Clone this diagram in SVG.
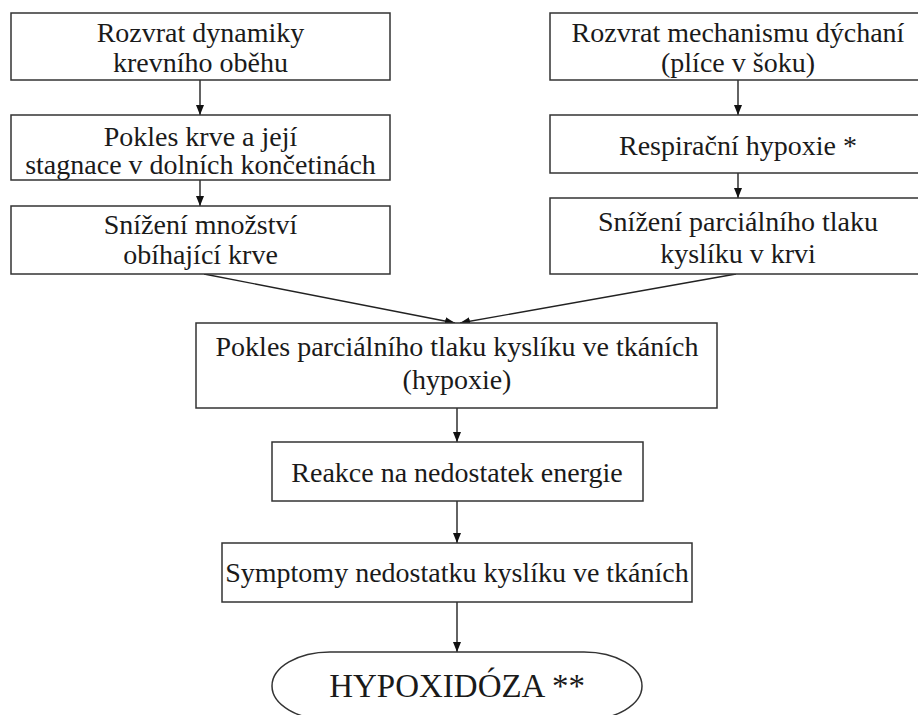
<svg xmlns="http://www.w3.org/2000/svg" width="918" height="715" viewBox="0 0 918 715">
  <style>
    .box { fill: #ffffff; stroke: #333333; stroke-width: 1.5; }
    .lbl { font-family: "Liberation Serif", "Times New Roman", serif; font-size: 28px; fill: #1a1a1a; text-anchor: middle; }
    .big { font-size: 33px; }
    .edge { fill: none; stroke: #222222; stroke-width: 1.4; }
  </style>
  <defs>
    <marker id="arrow" markerUnits="userSpaceOnUse" markerWidth="11" markerHeight="9" refX="10" refY="4" orient="auto">
      <path d="M0,0 L10,4 L0,8 z" fill="#111111"/>
    </marker>
  </defs>
  <rect width="918" height="715" fill="#ffffff"/>

  <!-- connectors -->
  <g id="connectors">
    <line class="edge" x1="200" y1="80" x2="200" y2="115" marker-end="url(#arrow)"/>
    <line class="edge" x1="200" y1="180" x2="200" y2="206" marker-end="url(#arrow)"/>
    <line class="edge" x1="738" y1="80" x2="738" y2="115" marker-end="url(#arrow)"/>
    <line class="edge" x1="738" y1="173" x2="738" y2="198" marker-end="url(#arrow)"/>
    <line class="edge" x1="204" y1="274" x2="455" y2="323" marker-end="url(#arrow)"/>
    <line class="edge" x1="736" y1="274" x2="460" y2="323" marker-end="url(#arrow)"/>
    <line class="edge" x1="457" y1="408" x2="457" y2="442" marker-end="url(#arrow)"/>
    <line class="edge" x1="457" y1="501" x2="457" y2="543" marker-end="url(#arrow)"/>
    <line class="edge" x1="457" y1="602" x2="457" y2="652" marker-end="url(#arrow)"/>
  </g>

  <!-- left column: circulation -->
  <g id="rozvrat-dynamiky">
    <rect class="box" x="11" y="13" width="379" height="67"/>
    <text class="lbl" x="200.5" y="42">Rozvrat dynamiky</text>
    <text class="lbl" x="200.5" y="72">krevního oběhu</text>
  </g>
  <g id="pokles-krve">
    <rect class="box" x="11" y="115" width="379" height="65"/>
    <text class="lbl" x="200.5" y="146">Pokles krve a její</text>
    <text class="lbl" x="200.5" y="174">stagnace v dolních končetinách</text>
  </g>
  <g id="snizeni-mnozstvi">
    <rect class="box" x="11" y="206" width="379" height="68"/>
    <text class="lbl" x="200.5" y="234">Snížení množství</text>
    <text class="lbl" x="200.5" y="264">obíhající krve</text>
  </g>

  <!-- right column: respiration -->
  <g id="rozvrat-dychani">
    <rect class="box" x="550" y="13" width="376" height="67"/>
    <text class="lbl" x="738" y="42">Rozvrat mechanismu dýchaní</text>
    <text class="lbl" x="738" y="72">(plíce v šoku)</text>
  </g>
  <g id="respiracni-hypoxie">
    <rect class="box" x="550" y="115" width="376" height="58"/>
    <text class="lbl" x="738" y="155">Respirační hypoxie *</text>
  </g>
  <g id="snizeni-parcialniho">
    <rect class="box" x="550" y="198" width="376" height="76"/>
    <text class="lbl" x="738" y="231">Snížení parciálního tlaku</text>
    <text class="lbl" x="738" y="263">kyslíku v krvi</text>
  </g>

  <!-- central chain -->
  <g id="hypoxie">
    <rect class="box" x="196" y="323" width="521" height="85"/>
    <text class="lbl" x="457" y="356">Pokles parciálního tlaku kyslíku ve tkáních</text>
    <text class="lbl" x="457" y="389">(hypoxie)</text>
  </g>
  <g id="reakce">
    <rect class="box" x="272" y="442" width="371" height="59"/>
    <text class="lbl" x="457" y="482">Reakce na nedostatek energie</text>
  </g>
  <g id="symptomy">
    <rect class="box" x="222" y="543" width="470" height="59"/>
    <text class="lbl" x="457" y="582">Symptomy nedostatku kyslíku ve tkáních</text>
  </g>
  <g id="hypoxidoza">
    <rect class="box" x="272" y="652" width="370" height="68" rx="58" ry="34"/>
    <text class="lbl big" x="457" y="697">HYPOXIDÓZA **</text>
  </g>
</svg>
